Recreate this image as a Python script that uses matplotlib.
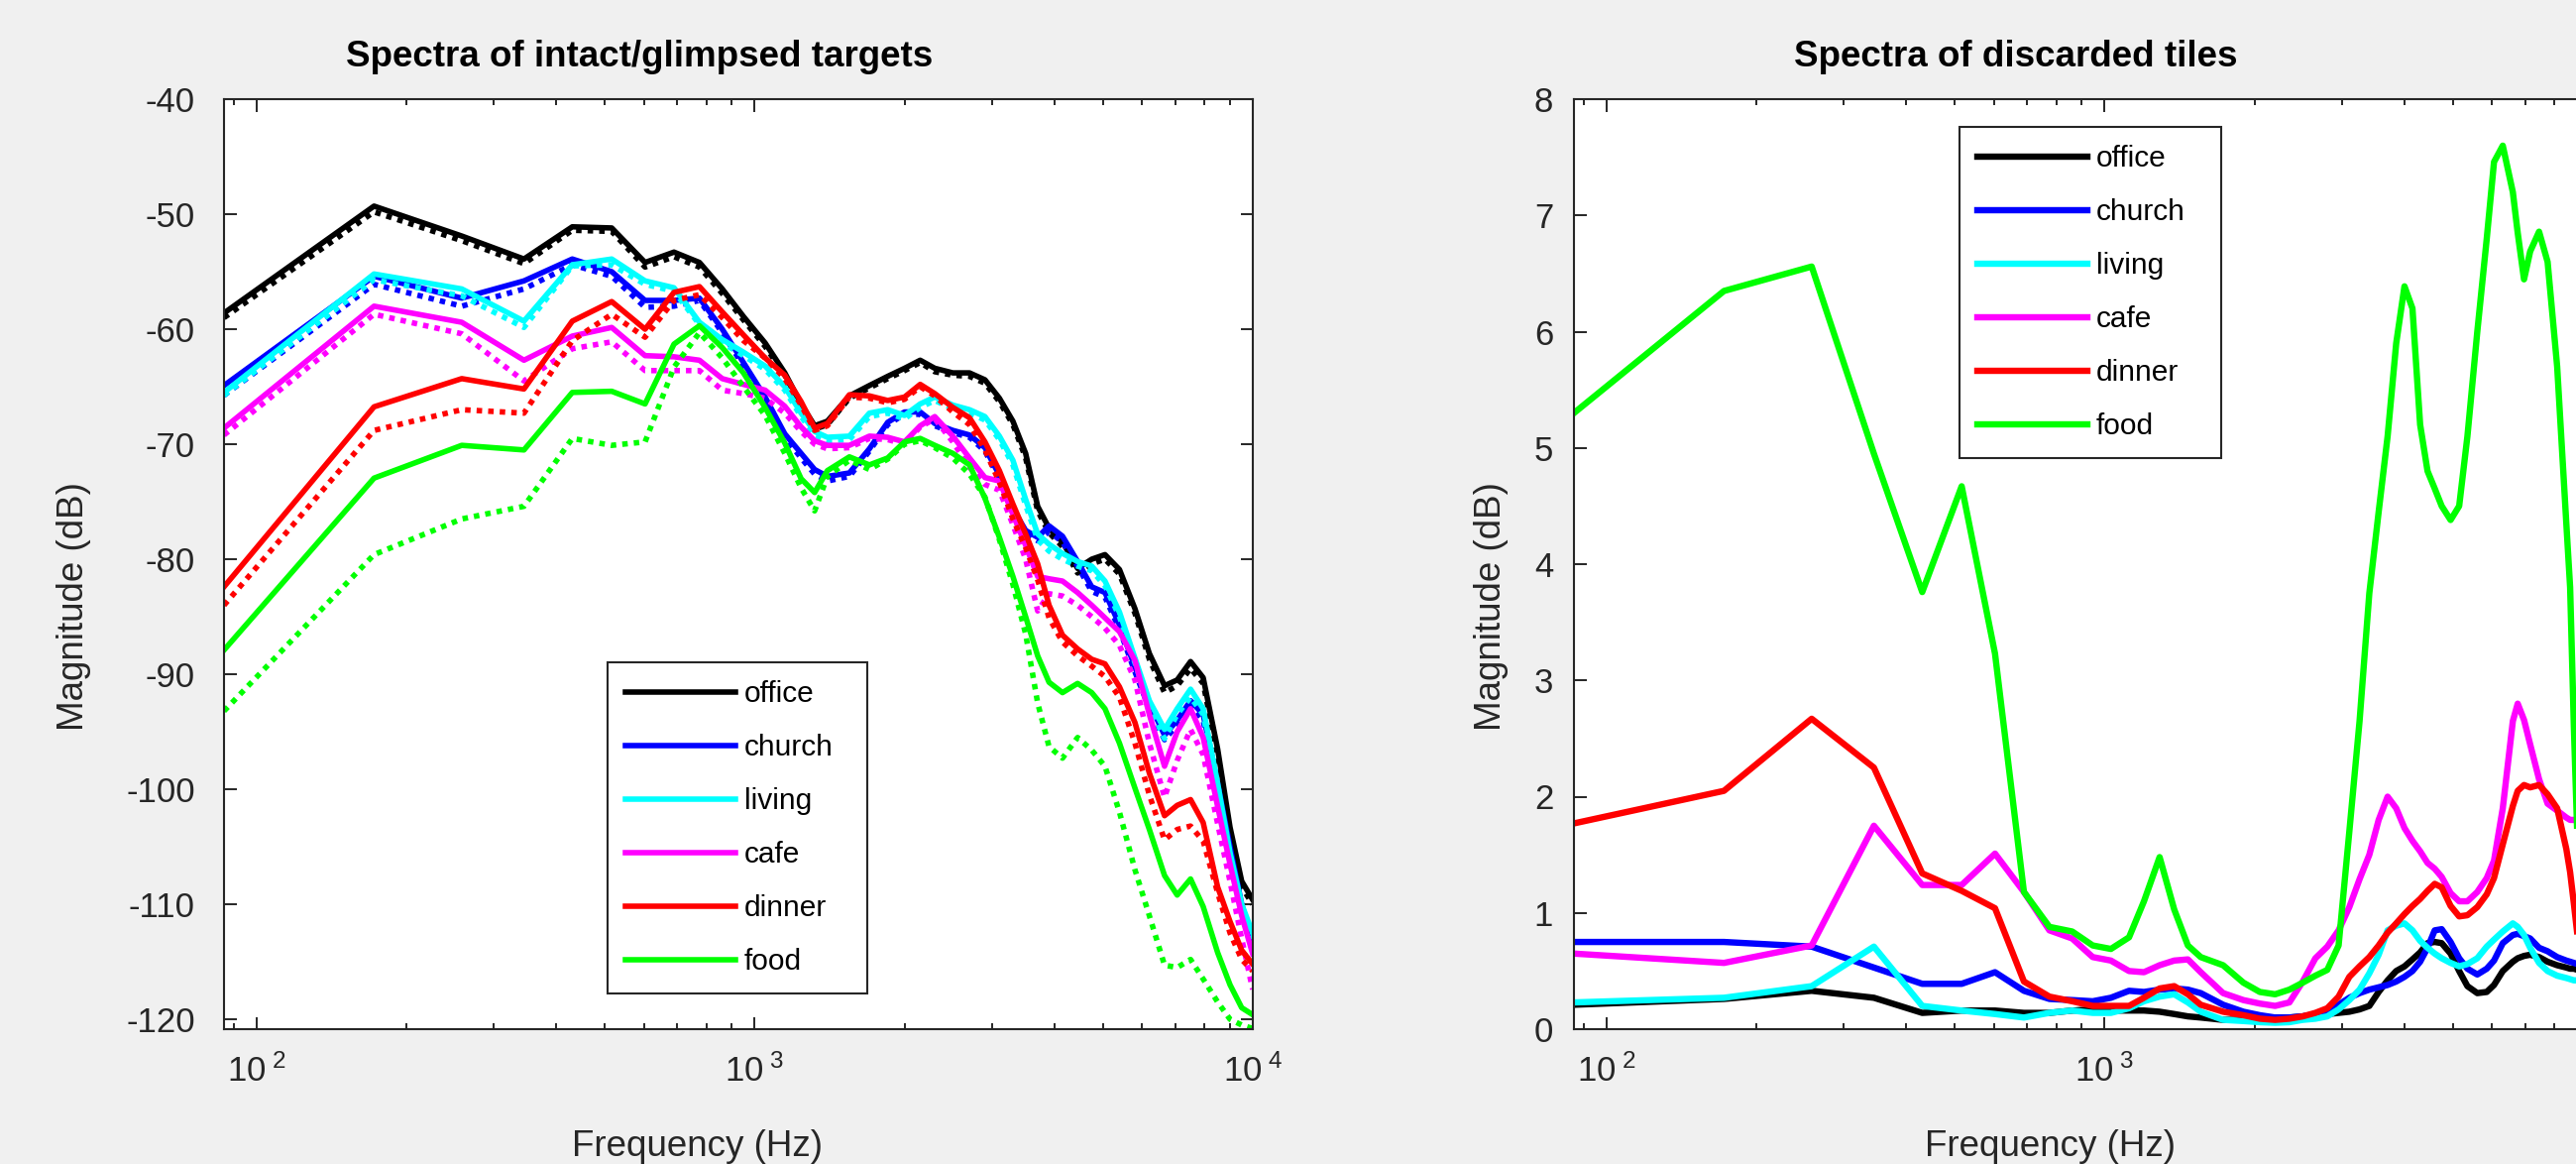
import numpy as np
import matplotlib.pyplot as plt
from matplotlib.ticker import FuncFormatter

plt.rcParams['font.family'] = ['Liberation Sans', 'DejaVu Sans']
plt.rcParams['mathtext.fontset'] = 'custom'
plt.rcParams['mathtext.rm'] = 'Liberation Sans'
plt.rcParams['mathtext.it'] = 'Liberation Sans'
plt.rcParams['axes.unicode_minus'] = False

names = ["office", "church", "living", "cafe", "dinner", "food"]
colors = ["#000000", "#0000ff", "#00ffff", "#ff00ff", "#ff0000", "#00ff00"]

# ---- left panel: spectra (dB), solid = intact, dotted = glimpsed
freq_l = [86.13, 172.3, 258.4, 344.5, 430.7, 516.8, 602.9, 689.1, 775.2, 861.3,
          950, 1050, 1150, 1240, 1320, 1400, 1550, 1700, 1850, 2000,
          2150, 2300, 2500, 2700, 2900, 3100, 3300, 3500, 3700, 3900,
          4150, 4450, 4750, 5050, 5400, 5800, 6200, 6650, 7050, 7500,
          7950, 8500, 9000, 9500, 9991]

office_s = [-58.6, -49.3, -51.9, -53.9, -51.1, -51.2, -54.2, -53.3, -54.2, -56.5,
            -58.9, -61.2, -63.8, -66.5, -68.4, -68.0, -65.8, -64.9, -64.1, -63.4,
            -62.7, -63.4, -63.8, -63.8, -64.4, -66.0, -68.0, -70.8, -75.4, -77.3,
            -78.5, -80.8, -80.0, -79.6, -80.9, -84.3, -88.2, -91.0, -90.5, -88.9,
            -90.3, -96.5, -103.3, -108.0, -109.6]
office_d = [-59.0, -49.8, -52.3, -54.3, -51.4, -51.5, -54.6, -53.7, -54.6, -56.9,
            -59.2, -61.5, -64.0, -66.7, -68.7, -68.3, -66.0, -65.1, -64.3, -63.6,
            -62.9, -63.7, -64.0, -64.1, -64.7, -66.3, -68.3, -71.2, -75.8, -77.7,
            -78.9, -81.2, -80.4, -80.0, -81.3, -84.7, -88.7, -91.6, -91.0, -89.5,
            -90.8, -97.0, -103.8, -108.5, -110.0]
church_s = [-64.9, -55.4, -57.3, -55.8, -53.9, -55.0, -57.5, -57.5, -57.3, -60.0,
            -62.9, -65.9, -69.1, -70.8, -72.2, -72.8, -72.5, -70.4, -68.1, -67.2,
            -67.2, -68.2, -68.8, -69.2, -70.3, -72.7, -75.6, -77.5, -78.1, -77.1,
            -78.0, -80.2, -82.4, -82.9, -85.7, -89.4, -92.5, -95.3, -94.0, -92.3,
            -93.5, -99.5, -105.0, -110.0, -113.3]
church_d = [-65.75, -56.1, -58.0, -56.5, -54.4, -55.4, -58.1, -58.0, -57.5, -60.3,
            -63.2, -66.2, -69.4, -71.2, -72.6, -73.2, -72.8, -70.6, -68.3, -67.4,
            -67.4, -68.4, -69.0, -69.4, -70.6, -73.0, -75.9, -77.8, -78.4, -77.6,
            -78.5, -80.6, -82.8, -83.3, -86.1, -89.8, -93.0, -95.7, -94.4, -92.7,
            -94.0, -100.0, -105.5, -110.5, -113.6]
living_s = [-65.5, -55.2, -56.5, -59.3, -54.4, -53.9, -55.8, -56.4, -59.4, -60.9,
            -62.0, -63.2, -65.0, -67.3, -68.9, -69.4, -69.3, -67.3, -67.0, -67.5,
            -66.5, -65.9, -66.6, -67.0, -67.6, -69.3, -71.4, -74.8, -77.8, -78.7,
            -79.5, -80.2, -80.6, -81.9, -84.6, -88.6, -92.3, -94.8, -93.0, -91.3,
            -93.0, -99.5, -105.5, -110.0, -112.5]
living_d = [-65.75, -55.7, -57.1, -59.85, -54.5, -54.4, -56.1, -56.7, -59.6, -61.2,
            -62.3, -63.5, -65.3, -67.6, -69.2, -69.7, -69.6, -67.6, -67.3, -67.8,
            -66.8, -66.2, -66.9, -67.3, -67.9, -69.6, -71.8, -75.3, -78.3, -79.3,
            -80.0, -80.6, -81.0, -82.3, -85.0, -89.0, -92.8, -95.6, -93.5, -92.0,
            -93.5, -100.0, -106.0, -110.5, -113.0]
cafe_s = [-68.6, -58.0, -59.4, -62.7, -60.6, -59.85, -62.3, -62.4, -62.7, -64.3,
          -64.8, -65.3, -66.7, -68.5, -69.7, -70.1, -70.1, -69.3, -69.4, -69.8,
          -68.4, -67.6, -69.3, -71.2, -72.9, -73.2, -76.1, -78.8, -81.5, -81.7,
          -81.9, -82.9, -84.0, -85.1, -86.3, -88.8, -93.5, -98.0, -95.0, -93.0,
          -95.5, -101.5, -106.5, -111.0, -114.3]
cafe_d = [-69.2, -58.7, -60.4, -64.5, -61.7, -61.1, -63.6, -63.6, -63.6, -65.3,
          -65.6, -66.0, -67.3, -68.9, -70.0, -70.4, -70.3, -69.5, -69.6, -70.0,
          -68.5, -67.8, -69.8, -72.0, -73.5, -74.0, -77.0, -80.0, -84.5, -83.0,
          -83.2, -84.0, -85.0, -86.0, -87.5, -90.5, -96.0, -100.7, -97.5, -94.8,
          -97.0, -103.0, -108.0, -113.0, -117.4]
dinner_s = [-82.4, -66.75, -64.3, -65.2, -59.3, -57.6, -60.0, -56.8, -56.3, -58.5,
            -60.5, -62.5, -64.0, -66.3, -68.6, -68.2, -65.7, -65.8, -66.2, -65.9,
            -64.8, -65.6, -66.8, -67.7, -69.8, -72.3, -75.2, -77.8, -80.4, -84.0,
            -86.6, -87.8, -88.7, -89.1, -91.1, -94.2, -98.6, -102.3, -101.4, -100.9,
            -102.9, -108.5, -111.5, -114.0, -115.2]
dinner_d = [-84.0, -68.8, -67.0, -67.3, -61.0, -58.7, -60.7, -57.5, -57.0, -59.0,
            -61.0, -62.5, -64.3, -66.6, -68.8, -68.4, -65.9, -66.0, -66.4, -66.1,
            -65.0, -65.8, -67.2, -68.3, -70.5, -73.3, -76.5, -79.0, -81.8, -85.1,
            -87.2, -88.4, -89.3, -90.2, -92.0, -96.0, -100.5, -104.4, -103.5, -103.2,
            -104.5, -109.0, -112.5, -114.8, -115.8]
food_s = [-87.9, -72.95, -70.1, -70.5, -65.5, -65.4, -66.5, -61.3, -59.7, -61.6,
          -63.8, -66.8, -69.9, -73.0, -74.2, -72.3, -71.1, -71.8, -71.2, -69.8,
          -69.5, -70.1, -70.8, -71.8, -74.7, -78.1, -81.5, -85.0, -88.4, -90.7,
          -91.6, -90.8, -91.6, -93.0, -96.0, -99.9, -103.5, -107.5, -109.2, -107.8,
          -110.2, -114.2, -117.0, -119.0, -119.6]
food_d = [-93.2, -79.6, -76.5, -75.4, -69.5, -70.1, -69.8, -63.3, -60.3, -62.5,
          -65.0, -67.5, -70.8, -73.8, -75.8, -72.8, -71.4, -72.2, -71.3, -70.0,
          -69.7, -70.3, -71.2, -72.6, -74.6, -78.3, -82.2, -86.5, -92.5, -96.3,
          -97.3, -95.5, -96.6, -98.0, -102.0, -107.0, -111.0, -115.3, -115.5, -114.8,
          -116.5, -118.5, -120.0, -120.5, -120.8]

# ---- right panel: discarded tiles
freq_r = [86.13, 172.3, 258.4, 344.5, 430.7, 516.8, 602.9, 689.1, 775.2, 861.3,
          947, 1030, 1120, 1200, 1290, 1380, 1470, 1560, 1730, 1900,
          2050, 2200, 2350, 2500, 2650, 2800, 2950, 3100, 3250, 3400,
          3550, 3700, 3850, 4000, 4150, 4300, 4450, 4600, 4750, 4950,
          5150, 5350, 5600, 5850, 6050, 6300, 6600, 6750, 6950, 7150,
          7450, 7750, 8100, 8450, 8600, 8750, 8900]

office_r = [0.21, 0.26, 0.33, 0.27, 0.14, 0.16, 0.16, 0.14, 0.14, 0.16,
            0.17, 0.16, 0.16, 0.16, 0.15, 0.13, 0.11, 0.10, 0.08, 0.08,
            0.09, 0.10, 0.10, 0.11, 0.12, 0.13, 0.14, 0.15, 0.17, 0.20,
            0.32, 0.42, 0.50, 0.54, 0.60, 0.66, 0.74, 0.75, 0.74, 0.65,
            0.50, 0.37, 0.31, 0.32, 0.38, 0.50, 0.58, 0.61, 0.63, 0.64,
            0.62, 0.58, 0.55, 0.53, 0.52, 0.52, 0.51]
church_r = [0.75, 0.75, 0.71, 0.53, 0.39, 0.39, 0.49, 0.33, 0.26, 0.25,
            0.24, 0.27, 0.33, 0.32, 0.34, 0.35, 0.34, 0.31, 0.21, 0.15,
            0.12, 0.10, 0.10, 0.11, 0.13, 0.16, 0.21, 0.27, 0.31, 0.34,
            0.36, 0.38, 0.41, 0.45, 0.50, 0.58, 0.70, 0.85, 0.86, 0.75,
            0.61, 0.52, 0.47, 0.52, 0.59, 0.74, 0.81, 0.82, 0.80, 0.78,
            0.70, 0.67, 0.62, 0.59, 0.58, 0.57, 0.56]
living_r = [0.23, 0.27, 0.37, 0.71, 0.20, 0.16, 0.13, 0.10, 0.14, 0.16,
            0.14, 0.14, 0.18, 0.24, 0.28, 0.30, 0.23, 0.15, 0.08, 0.07,
            0.06, 0.055, 0.06, 0.08, 0.09, 0.11, 0.17, 0.25, 0.34, 0.48,
            0.64, 0.85, 0.89, 0.91, 0.85, 0.76, 0.70, 0.65, 0.61, 0.57,
            0.54, 0.56, 0.61, 0.71, 0.77, 0.84, 0.91, 0.88, 0.81, 0.70,
            0.57, 0.50, 0.46, 0.44, 0.43, 0.42, 0.42]
cafe_r = [0.65, 0.57, 0.72, 1.75, 1.24, 1.24, 1.51, 1.18, 0.85, 0.78,
          0.62, 0.59, 0.50, 0.49, 0.55, 0.59, 0.60, 0.49, 0.31, 0.25,
          0.22, 0.20, 0.23, 0.41, 0.61, 0.71, 0.85, 1.05, 1.29, 1.50,
          1.80, 2.00, 1.90, 1.73, 1.62, 1.53, 1.43, 1.38, 1.31, 1.17,
          1.10, 1.10, 1.18, 1.30, 1.45, 1.90, 2.65, 2.80, 2.66, 2.45,
          2.15, 1.94, 1.88, 1.82, 1.80, 1.80, 1.79]
dinner_r = [1.77, 2.05, 2.67, 2.25, 1.34, 1.19, 1.04, 0.41, 0.28, 0.24,
            0.20, 0.20, 0.20, 0.27, 0.35, 0.37, 0.30, 0.21, 0.15, 0.12,
            0.09, 0.08, 0.09, 0.11, 0.14, 0.18, 0.28, 0.45, 0.54, 0.62,
            0.72, 0.83, 0.91, 0.99, 1.06, 1.12, 1.19, 1.25, 1.22, 1.06,
            0.97, 0.98, 1.05, 1.16, 1.30, 1.59, 1.92, 2.05, 2.10, 2.08,
            2.10, 2.02, 1.90, 1.55, 1.35, 1.08, 0.80]
food_r = [5.30, 6.35, 6.56, 4.95, 3.76, 4.67, 3.23, 1.18, 0.88, 0.84,
          0.72, 0.69, 0.79, 1.10, 1.48, 1.03, 0.72, 0.62, 0.55, 0.40,
          0.32, 0.30, 0.34, 0.40, 0.46, 0.51, 0.72, 1.70, 2.65, 3.75,
          4.45, 5.10, 5.90, 6.39, 6.20, 5.20, 4.80, 4.65, 4.50, 4.38,
          4.50, 5.10, 6.00, 6.80, 7.46, 7.60, 7.20, 6.85, 6.45, 6.69,
          6.86, 6.60, 5.70, 4.35, 3.80, 2.60, 1.60]

solid_l = [office_s, church_s, living_s, cafe_s, dinner_s, food_s]
dotted_l = [office_d, church_d, living_d, cafe_d, dinner_d, food_d]
lines_r = [office_r, church_r, living_r, cafe_r, dinner_r, food_r]

W, H = 2599, 1174
fig = plt.figure(figsize=(W / 100, H / 100), dpi=100, facecolor='#f0f0f0')
axL = fig.add_axes([226 / W, 1 - 1038 / H, 1038 / W, 938 / H])
axR = fig.add_axes([1588 / W, 1 - 1038 / H, 1038 / W, 938 / H])

for name, c, s, d in zip(names, colors, solid_l, dotted_l):
    axL.plot(freq_l, s, color=c, lw=4.0, label=name)
    axL.plot(freq_l, d, color=c, lw=4.0, ls=(0, (1, 1.1)), dash_capstyle='butt')

for name, c, v in zip(names, colors, lines_r):
    axR.plot(freq_r, v, color=c, lw=4.6, label=name)

dark = '#262626'
expfmt = FuncFormatter(lambda v, p: r'$\mathregular{10^{\ %d}}$' % round(np.log10(v)))

for ax in (axL, axR):
    ax.set_xscale('log')
    ax.set_xlim(86.13, 10000)
    ax.xaxis.set_major_formatter(expfmt)
    ax.tick_params(which='both', direction='in', top=True, right=True,
                   color=dark, width=1.4, labelcolor=dark)
    ax.tick_params(which='major', length=9, labelsize=25)
    ax.tick_params(which='minor', length=4.5)
    ax.tick_params(axis='x', pad=18)
    for sp in ax.spines.values():
        sp.set_linewidth(1.5)
        sp.set_color(dark)
    ax.set_ylabel('Magnitude (dB)', fontsize=26.5, color=dark)
    ax.set_xlabel('Frequency (Hz)', fontsize=26.5, color=dark)
    ax.xaxis.label.set_va('center')
    ax.yaxis.label.set_va('center')

axL.set_ylim(-120.86, -40)
axL.set_yticks(np.arange(-120, -39, 10))
axL.tick_params(axis='y', pad=21)
axR.set_ylim(0, 8)
axR.set_yticks(np.arange(0, 9, 1))
axR.tick_params(axis='y', pad=15)

axL.yaxis.set_label_coords(-0.1455, 0.455)
axR.yaxis.set_label_coords(-0.080, 0.455)
axL.xaxis.set_label_coords(0.46, -0.126)
axR.xaxis.set_label_coords(0.4626, -0.126)

axL.set_title('Spectra of intact/glimpsed targets', fontsize=26.5,
              fontweight='bold', x=0.404, pad=24)
axR.set_title('Spectra of discarded tiles', fontsize=26.5,
              fontweight='bold', x=0.429, pad=24)

# legend boxes: (x0, y_top, width) in axes fraction
for ax, (x0, ytop, wd) in ((axL, (0.373, 0.394, 0.252)), (axR, (0.375, 0.970, 0.254))):
    leg = ax.legend(loc='upper left', bbox_to_anchor=(x0, ytop - 0.4, wd, 0.4),
                    mode='expand', fontsize=21.5,
                    handlelength=3.7, handletextpad=0.3, labelspacing=0.87,
                    borderpad=0.6, borderaxespad=0, fancybox=False,
                    framealpha=1, edgecolor=dark)
    leg.get_frame().set_linewidth(1.5)

fig.savefig('out.png', dpi=100, facecolor=fig.get_facecolor())
